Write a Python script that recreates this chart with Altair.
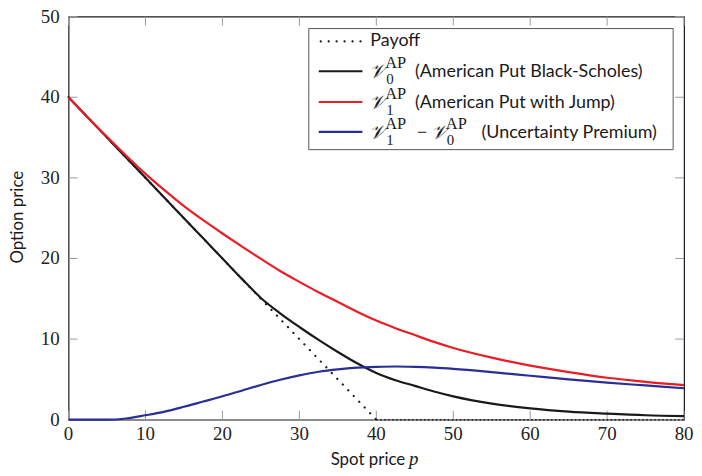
import altair as alt
import pandas as pd

# ---------------- data ----------------
spot = [0, 2.5, 5, 7.5, 10, 12.5, 15, 17.5, 20, 22.5, 25, 27.5, 30, 32.5, 35,
        37.5, 40, 42.5, 45, 47.5, 50, 55, 60, 65, 70, 75, 80]
v0_black_scholes = [40, 37.5, 35, 32.5, 30, 27.5, 25, 22.5, 20, 17.5, 15.1, 13.2,
                    11.5, 9.9, 8.4, 7.0, 5.8, 4.9, 4.2, 3.5, 2.9, 2.0, 1.4,
                    1.0, 0.75, 0.55, 0.45]
v1_with_jump = [40, 37.5, 35.1, 32.75, 30.5, 28.45, 26.5, 24.75, 23.1, 21.5, 19.95,
                18.45, 17.1, 15.8, 14.6, 13.4, 12.3, 11.35, 10.5, 9.65, 8.9, 7.7,
                6.7, 5.9, 5.2, 4.7, 4.3]
uncertainty_premium = [0, 0, 0, 0.15, 0.55, 1.0, 1.6, 2.25, 2.9, 3.6, 4.3, 4.95,
                       5.5, 5.95, 6.25, 6.45, 6.55, 6.6, 6.55, 6.45, 6.3, 5.9,
                       5.45, 5.0, 4.6, 4.25, 3.9]
payoff_spot = [0, 40, 80]
payoff_value = [40, 0, 0]

x_ticks = [0, 10, 20, 30, 40, 50, 60, 70, 80]
y_ticks = [0, 10, 20, 30, 40, 50]

legend_texts = ["Payoff", "(American Put Black-Scholes)",
                "(American Put with Jump)", "(Uncertainty Premium)"]
sym_V = "𝒱"
sym_AP = "AP"
sym_0 = "0"
sym_1 = "1"
sym_minus = "−"
x_title = ["Spot price", "p"]
y_title = "Option price"

# ---------------- style ----------------
W, H = 620, 406
SANS = "Lato"
SERIF = "Liberation Serif"
C_BLACK = "#1a1a1a"
C_RED = "#ec1c24"
C_BLUE = "#2b2e95"

curves = pd.DataFrame({
    "spot": spot,
    "V0": v0_black_scholes,
    "V1": v1_with_jump,
    "diff": uncertainty_premium,
})
payoff_df = pd.DataFrame({"spot": payoff_spot, "value": payoff_value})

xs = alt.Scale(domain=[0, 80], nice=False, zero=False)
ys = alt.Scale(domain=[0, 50], nice=False, zero=False)

def X(f):
    return alt.X(f, scale=xs, axis=None)

def Y(f):
    return alt.Y(f, scale=ys, axis=None)

base = alt.Chart(curves)

# tick marks (inward, mirrored) and tick labels
xt = pd.DataFrame({"t": x_ticks})
yt = pd.DataFrame({"t": y_ticks})
TICK = 9
TC = "#9a9a9a"
xtick_b = alt.Chart(xt).mark_rule(color=TC, strokeWidth=1).encode(
    x=X("t:Q"), y=alt.value(H), y2=alt.value(H - TICK))
xtick_t = alt.Chart(xt).mark_rule(color=TC, strokeWidth=1).encode(
    x=X("t:Q"), y=alt.value(0), y2=alt.value(TICK))
ytick_l = alt.Chart(yt).mark_rule(color=TC, strokeWidth=1).encode(
    y=Y("t:Q"), x=alt.value(0), x2=alt.value(TICK))
ytick_r = alt.Chart(yt).mark_rule(color=TC, strokeWidth=1).encode(
    y=Y("t:Q"), x=alt.value(W), x2=alt.value(W - TICK))

LABFS = 19
xlab = alt.Chart(xt).mark_text(font=SERIF, fontSize=LABFS, color="#222",
                               baseline="middle", align="center").encode(
    x=X("t:Q"), y=alt.value(H + 14), text=alt.Text("t:Q"))
ylab = alt.Chart(yt).mark_text(font=SERIF, fontSize=LABFS, color="#222",
                               baseline="middle", align="right").encode(
    y=Y("t:Q"), x=alt.value(-9), text=alt.Text("t:Q"))

payoff_diag = alt.Chart(payoff_df).transform_filter("datum.spot <= 40").mark_line(
    color=C_BLACK, strokeWidth=2.2, strokeDash=[0.1, 7.9], strokeCap="round").encode(
    x=X("spot:Q"), y=Y("value:Q"))
payoff_flat = alt.Chart(payoff_df).transform_filter("datum.spot >= 40").mark_line(
    color=C_BLACK, strokeWidth=1.6, strokeDash=[1.5, 2.5]).encode(
    x=X("spot:Q"), y=Y("value:Q"))

def curve(field, color):
    return base.mark_line(color=color, strokeWidth=2.2, interpolate="monotone").encode(
        x=X("spot:Q"), y=Y(f"{field}:Q"))

black = curve("V0", C_BLACK)
red = curve("V1", C_RED)
blue = curve("diff", C_BLUE)

def txt(s, x, y, size, font, style="normal", align="left", baseline="middle",
        angle=0, color="#1a1a1a"):
    return alt.Chart(pd.DataFrame({"t": [s]})).mark_text(
        font=font, fontSize=size, fontStyle=style, align=align, baseline=baseline,
        angle=angle, color=color).encode(x=alt.value(x), y=alt.value(y), text="t:N")

# legend box (pixel coordinates inside the plot area)
LX0, LX1, LY0, LY1 = 242, 609, 12, 134
legend_box = alt.Chart(pd.DataFrame({"a": [0]})).mark_rect(
    fill="white", stroke="#555", strokeWidth=1).encode(
    x=alt.value(LX0), x2=alt.value(LX1), y=alt.value(LY0), y2=alt.value(LY1))

rows_y = [25, 55, 86, 116]
SX0, SX1 = 252, 296
def sym_line(y, color, dotted=False):
    kw = dict(color=color, strokeWidth=2.2)
    if dotted:
        kw.update(strokeDash=[0.1, 7.9], strokeCap="round")
    return alt.Chart(pd.DataFrame({"a": [0]})).mark_rule(**kw).encode(
        x=alt.value(SX0 + (2 if dotted else 0)), x2=alt.value(SX1),
        y=alt.value(y), y2=alt.value(y))

LFS = 18
VFS = 20
SUPFS = 16.5
SUBFS = 15
legend_layers = [
    legend_box,
    sym_line(rows_y[0], C_BLACK, dotted=True),
    sym_line(rows_y[1], C_BLACK),
    sym_line(rows_y[2], C_RED),
    sym_line(rows_y[3], C_BLUE),
    txt(legend_texts[0], 304, rows_y[0], LFS, SANS),
]
for y, sub, lab in [(rows_y[1], sym_0, legend_texts[1]), (rows_y[2], sym_1, legend_texts[2])]:
    legend_layers += [
        txt(sym_V, 303, y + 1, VFS, SERIF, style="italic"),
        txt(sym_AP, 319, y - 8, SUPFS, SERIF),
        txt(sub, 320, y + 8, SUBFS, SERIF),
        txt(lab, 349, y + 1, LFS, SANS),
    ]
y = rows_y[3]
legend_layers += [
    txt(sym_V, 303, y + 1, VFS, SERIF, style="italic"),
    txt(sym_AP, 319, y - 8, SUPFS, SERIF),
    txt(sym_1, 320, y + 8, SUBFS, SERIF),
    txt(sym_minus, 356, y + 1, 18, SERIF, align="center"),
    txt(sym_V, 365, y + 1, VFS, SERIF, style="italic"),
    txt(sym_AP, 380, y - 8, SUPFS, SERIF),
    txt(sym_0, 381, y + 8, SUBFS, SERIF),
    txt(legend_texts[3], 416, y + 1, LFS, SANS),
]

titles = [
    txt(x_title[0], 264, 447, 17, SANS),
    txt(x_title[1], 343, 446, 19, SERIF, style="italic"),
    txt(y_title, -51, 202, 17, SANS, align="center", angle=270),
]

chart = alt.layer(
    xtick_b, xtick_t, ytick_l, ytick_r, xlab, ylab,
    payoff_diag, payoff_flat, black, red, blue,
    *legend_layers, *titles,
).properties(
    width=W, height=H,
    background="white",
    autosize=alt.AutoSizeParams(type="none"),
    padding={"left": 61, "top": 7, "right": 10, "bottom": 54},
).configure_view(stroke="#1a1a1a", strokeWidth=1.2)

chart.save("out.html", embed_options={"renderer": "svg", "actions": False})
